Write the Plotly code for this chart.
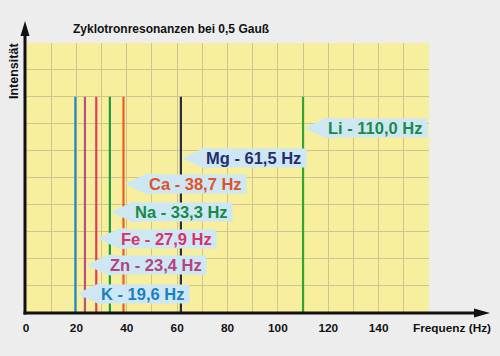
import plotly.graph_objects as go

# ---- data ----
elements = ["K", "Zn", "Fe", "Na", "Ca", "Mg", "Li"]
freqs = [19.6, 23.4, 27.9, 33.3, 38.7, 61.5, 110.0]
intensity = [8, 8, 8, 8, 8, 8, 8]
label_y = [0.68, 1.75, 2.73, 3.72, 4.76, 5.72, 6.84]
line_colors = ["#1c8bc6", "#b9507f", "#e23a60", "#1d9a40", "#e95d29", "#2b2b45", "#33a333"]
text_colors = ["#1a80c2", "#b4437f", "#d8316b", "#1a8a47", "#e0522b", "#272d6b", "#1d8a47"]
x_ticks = [0, 20, 40, 60, 80, 100, 120, 140]

title = "Zyklotronresonanzen bei 0,5 Gauß"
x_title = "Frequenz (Hz)"
y_title = "Intensität"

# ---- layout geometry ----
W, H = 500, 356
L, R, T, B = 26, 71, 43, 44
XMAX, YMAX = 160, 10
pw, ph = W - L - R, H - T - B
px_x = pw / XMAX   # pixels per Hz
px_y = ph / YMAX   # pixels per unit

YELLOW = "#f7ef9d"
GRID = "#cdc58e"
CALLOUT = "#cde8f4"

fig = go.Figure()

for el, f, h, c in zip(elements, freqs, intensity, line_colors):
    fig.add_trace(go.Scatter(x=[f, f], y=[0, h], mode="lines",
                             line=dict(color=c, width=2.2),
                             hoverinfo="skip", showlegend=False))

shapes = []
annotations = []
slant = 22 / px_x
half = 10.2 / px_y
for el, f, ly, tc in zip(elements, freqs, label_y, text_colors):
    tip = f + 1.2 / px_x
    corner = tip + slant
    shapes.append(dict(type="path", xref="x", yref="y",
                       path=f"M {tip},{ly} L {corner},{ly + half} L {corner + 2.5},{ly + half} "
                            f"L {corner + 2.5},{ly - half} L {corner},{ly - half} Z",
                       fillcolor=CALLOUT, line=dict(width=0), layer="above"))
    txt = f"{el} - {f:.1f}".replace(".", ",") + " Hz"
    annotations.append(dict(x=corner, y=ly, xref="x", yref="y", xanchor="left",
                            yanchor="middle", showarrow=False, xshift=1,
                            text=f"<b>{txt}</b>&nbsp;", bgcolor=CALLOUT, borderpad=0,
                            font=dict(family="Liberation Sans, Arial, sans-serif",
                                      size=16.5, color=tc)))

# axes lines with arrowheads (paper coordinates)
def px2paper_x(p):
    return (p - L) / pw

def px2paper_y(p):
    return (H - B - p) / ph

ax_y = px2paper_y(313)
ax_x = px2paper_x(25)
shapes.append(dict(type="line", xref="paper", yref="paper",
                   x0=px2paper_x(23.5), x1=px2paper_x(477), y0=ax_y, y1=ax_y,
                   line=dict(color="#111111", width=3)))
shapes.append(dict(type="path", xref="paper", yref="paper",
                   path=f"M {px2paper_x(474)},{px2paper_y(308.5)} L {px2paper_x(490)},{ax_y} "
                        f"L {px2paper_x(474)},{px2paper_y(317.5)} Z",
                   fillcolor="#111111", line=dict(width=0)))
shapes.append(dict(type="line", xref="paper", yref="paper",
                   x0=ax_x, x1=ax_x, y0=px2paper_y(314.5), y1=px2paper_y(34),
                   line=dict(color="#111111", width=3)))
shapes.append(dict(type="path", xref="paper", yref="paper",
                   path=f"M {px2paper_x(20.5)},{px2paper_y(36)} L {ax_x},{px2paper_y(21)} "
                        f"L {px2paper_x(29.5)},{px2paper_y(36)} Z",
                   fillcolor="#111111", line=dict(width=0)))

FONT = "Liberation Sans, Arial, sans-serif"
annotations.append(dict(x=px2paper_x(71), y=px2paper_y(29), xref="paper", yref="paper",
                        xanchor="left", yanchor="middle", showarrow=False,
                        text=f"<b>{title}</b>", font=dict(family=FONT, size=12, color="#111111")))
annotations.append(dict(x=px2paper_x(411), y=px2paper_y(328), xref="paper", yref="paper",
                        xanchor="left", yanchor="middle", showarrow=False,
                        text=f"<b>{x_title}</b>", font=dict(family=FONT, size=11.8, color="#111111")))
annotations.append(dict(x=px2paper_x(14), y=px2paper_y(71), xref="paper", yref="paper",
                        xanchor="center", yanchor="middle", showarrow=False, textangle=-90,
                        text=f"<b>{y_title}</b>", font=dict(family=FONT, size=12.5, color="#111111")))

fig.update_layout(
    width=W, height=H,
    margin=dict(l=L, r=R, t=T, b=B, pad=0, autoexpand=False),
    paper_bgcolor="#ededee",
    plot_bgcolor=YELLOW,
    shapes=shapes,
    annotations=annotations,
    showlegend=False,
    xaxis=dict(range=[0, XMAX], tickvals=x_ticks, ticktext=[f"<b>{v}</b>" for v in x_ticks],
               showgrid=True, gridcolor=GRID, gridwidth=1,
               minor=dict(dtick=10, showgrid=True, gridcolor=GRID, gridwidth=1),
               zeroline=False, showline=False, ticks="outside", ticklen=5,
               tickcolor="rgba(0,0,0,0)", automargin=False,
               tickfont=dict(family=FONT, size=11.8, color="#111111"), fixedrange=True),
    yaxis=dict(range=[0, YMAX], dtick=1, showgrid=True, gridcolor=GRID, gridwidth=1,
               zeroline=False, showline=False, showticklabels=False, fixedrange=True,
               automargin=False),
)

fig.write_html("out.html", config={"staticPlot": True},
               post_script="document.body.style.margin='0';")
